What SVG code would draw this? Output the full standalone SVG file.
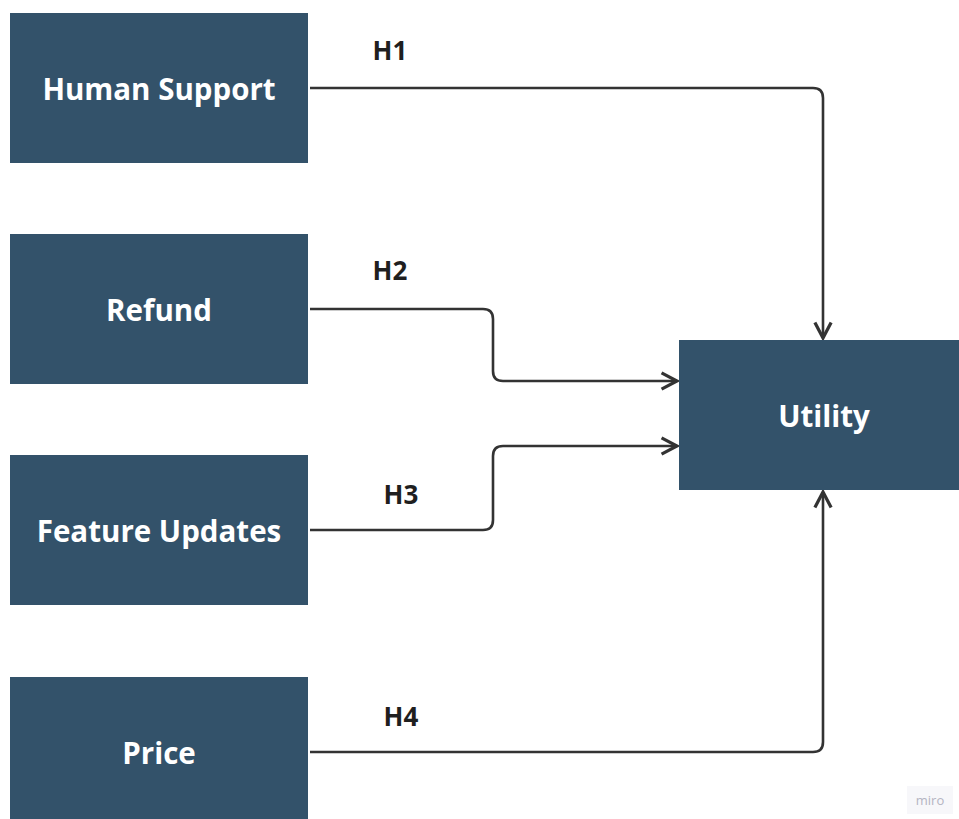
<svg xmlns="http://www.w3.org/2000/svg" width="959" height="819" viewBox="0 0 959 819">
<defs>
<style>
.box{fill:#33526a;}
.lbl{font-family:"Open Sans","Noto Sans",sans-serif;font-weight:bold;font-size:29.5px;fill:#ffffff;text-anchor:middle;dominant-baseline:central;}
.h{font-family:"Open Sans","Noto Sans",sans-serif;font-weight:bold;font-size:26px;fill:#1f1f1f;text-anchor:middle;dominant-baseline:central;}
.edge{fill:none;stroke:#333333;stroke-width:2.6;marker-end:url(#arr);}
</style>
<marker id="arr" viewBox="0 0 12 12" refX="11" refY="6" markerWidth="7.5" markerHeight="7.5" orient="auto" markerUnits="strokeWidth">
<path d="M1.5,1 L11,6 L1.5,11" fill="none" stroke="#333333" stroke-width="2" stroke-linejoin="miter"/>
</marker>
</defs>
<rect width="959" height="819" fill="#ffffff"/>
<g id="connectors">
<path class="edge" d="M310,88 H813 Q823,88 823,98 V338"/>
<path class="edge" d="M310,309 H483 Q493,309 493,319 V371 Q493,381 503,381 H677"/>
<path class="edge" d="M310,530 H483 Q493,530 493,520 V456 Q493,446 503,446 H677"/>
<path class="edge" d="M310,752 H813 Q823,752 823,742 V492"/>
<text class="h" x="390" y="50">H1</text>
<text class="h" x="390" y="270">H2</text>
<text class="h" x="401" y="494">H3</text>
<text class="h" x="401" y="716">H4</text>
</g>
<g id="human-support"><rect class="box" x="10" y="13" width="298" height="150"/><text class="lbl" x="159" y="88">Human Support</text></g>
<g id="refund"><rect class="box" x="10" y="234" width="298" height="150"/><text class="lbl" x="159" y="309">Refund</text></g>
<g id="feature-updates"><rect class="box" x="10" y="455" width="298" height="150"/><text class="lbl" x="159" y="530">Feature Updates</text></g>
<g id="price"><rect class="box" x="10" y="677" width="298" height="150"/><text class="lbl" x="159" y="752">Price</text></g>
<g id="utility"><rect class="box" x="679" y="340" width="290" height="150"/><text class="lbl" x="824" y="415">Utility</text></g>
<rect x="907" y="786" width="46" height="28" fill="#f7f7fa"/>
<text x="930" y="800" font-family="Open Sans,sans-serif" font-size="13" fill="#b4b4c2" text-anchor="middle" dominant-baseline="central">miro</text>
</svg>
